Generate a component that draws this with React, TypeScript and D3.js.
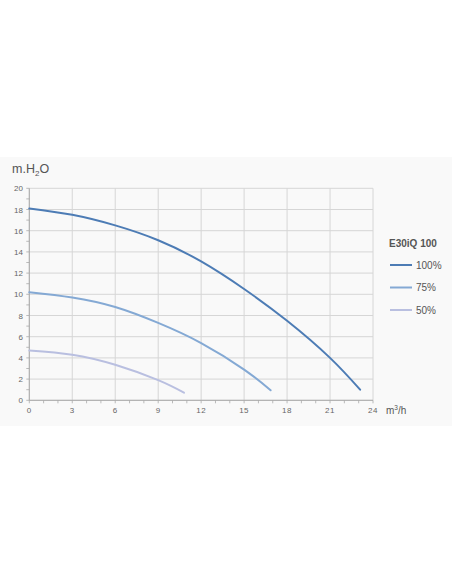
import React from "react";
import * as d3 from "d3";

const xTicks = [0, 3, 6, 9, 12, 15, 18, 21, 24];
const yTicks = [0, 2, 4, 6, 8, 10, 12, 14, 16, 18, 20];
const legendTitle = "E30iQ 100";
const seriesNames = ["100%", "75%", "50%"];
const seriesColors = ["#4d7cb5", "#84a9d4", "#b9bfe0"];
const flow100: [number, number][] = [[0, 18.1], [3, 17.5], [6, 16.5], [9, 15.1], [12, 13.1], [15, 10.5], [18, 7.5], [21, 4.0], [23.1, 1.0]];
const flow75: [number, number][] = [[0, 10.2], [3, 9.7], [6, 8.8], [9, 7.3], [12, 5.4], [15, 2.9], [16.85, 0.95]];
const flow50: [number, number][] = [[0, 4.7], [3, 4.3], [6, 3.35], [9, 1.9], [10.8, 0.72]];
const seriesData = [flow100, flow75, flow50];

export default function App() {
  const W = 452, H = 584;
  const x = d3.scaleLinear().domain([0, 24]).range([29.3, 373]);
  const y = d3.scaleLinear().domain([0, 20]).range([400.3, 188.3]);
  const line = d3.line<[number, number]>().x(d => x(d[0])).y(d => y(d[1])).curve(d3.curveNatural);
  const minorX = d3.range(0, 25, 1);
  const minorY = d3.range(1, 20, 2);
  const font = "Liberation Sans, Arial, Helvetica, sans-serif";
  return (
    <svg width={W} height={H} style={{ position: "absolute", left: 0, top: 0 }} fontFamily={font}>
      <rect x={0} y={0} width={W} height={H} fill="#ffffff" />
      <rect x={0} y={157} width={W} height={269} fill="#f9f9f9" />
      <text x={12} y={173} fontSize={12.5} fill="#555">m.H<tspan fontSize={8} dy={3}>2</tspan><tspan dy={-3}>O</tspan></text>
      {xTicks.map(t => (
        <line key={"gx" + t} x1={x(t)} x2={x(t)} y1={y(20)} y2={y(0)} stroke="#d6d6d6" strokeWidth={1} />
      ))}
      {yTicks.map(t => (
        <line key={"gy" + t} x1={x(0)} x2={x(24)} y1={y(t)} y2={y(t)} stroke="#d6d6d6" strokeWidth={1} />
      ))}
      <line x1={x(0)} x2={x(0)} y1={y(20)} y2={y(0)} stroke="#aaa" strokeWidth={1} />
      <line x1={x(0)} x2={x(24)} y1={y(0)} y2={y(0)} stroke="#aaa" strokeWidth={1} />
      {minorX.map(t => (
        <line key={"mx" + t} x1={x(t)} x2={x(t)} y1={y(0)} y2={y(0) + 3} stroke="#aaa" strokeWidth={0.8} />
      ))}
      {minorY.map(t => (
        <line key={"my" + t} x1={x(0) - 3} x2={x(0)} y1={y(t)} y2={y(t)} stroke="#aaa" strokeWidth={0.8} />
      ))}
      {yTicks.map(t => (
        <line key={"ty" + t} x1={x(0) - 3} x2={x(0)} y1={y(t)} y2={y(t)} stroke="#aaa" strokeWidth={0.8} />
      ))}
      {yTicks.map(t => (
        <text key={"ly" + t} x={23} y={y(t) + 3} fontSize={8} fill="#666" textAnchor="end">{t}</text>
      ))}
      {xTicks.map(t => (
        <text key={"lx" + t} x={x(t)} y={413} fontSize={8} fill="#666" textAnchor="middle" letterSpacing={0.5}>{t}</text>
      ))}
      <text x={386} y={414} fontSize={10} fill="#555">m<tspan fontSize={6.5} dy={-4}>3</tspan><tspan dy={4}>/h</tspan></text>
      {seriesData.map((d, i) => (
        <path key={"s" + i} d={line(d) || ""} fill="none" stroke={seriesColors[i]} strokeWidth={2} strokeLinecap="round" />
      ))}
      <text x={389} y={247} fontSize={10} fontWeight="bold" fill="#555">{legendTitle}</text>
      {seriesNames.map((n, i) => (
        <g key={"lg" + i}>
          <line x1={390} x2={412} y1={265 + i * 22.5} y2={265 + i * 22.5} stroke={seriesColors[i]} strokeWidth={2} />
          <text x={416} y={268.5 + i * 22.5} fontSize={10} fill="#555">{n}</text>
        </g>
      ))}
    </svg>
  );
}
